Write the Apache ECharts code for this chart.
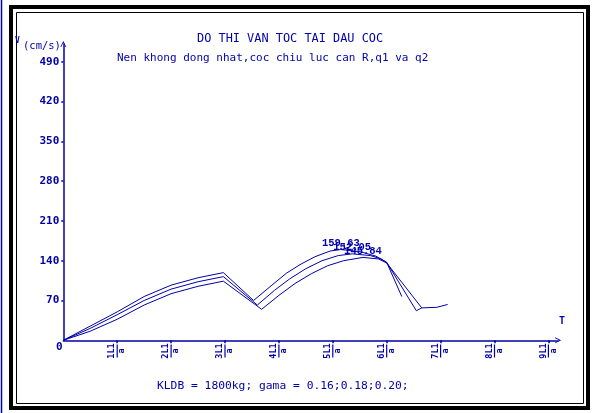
<!DOCTYPE html>
<html><head><meta charset="utf-8">
<script src="https://cdn.jsdelivr.net/npm/echarts@6/dist/echarts.min.js"></script>
<style>html,body{margin:0;padding:0;background:#fff}#c{width:592px;height:413px}</style>
</head><body><div id="c"></div>
<script>
// ---- data (t in units of L1/a, v in cm/s) ----
const tA = [0, 0.5, 1.0, 1.5, 2.0, 2.5, 2.97, 3.53, 3.87, 4.14, 4.39, 4.67, 4.95, 5.15, 5.5, 5.8, 6.0, 6.28];
const vA = [0, 25, 50, 77, 97, 110, 119, 70, 97, 118, 133, 147, 157, 159.63, 156, 148, 137, 77];
const tB = [0, 0.5, 1.0, 1.5, 2.0, 2.5, 2.97, 3.60, 3.92, 4.2, 4.5, 4.8, 5.1, 5.36, 5.7, 5.9, 6.0, 6.55, 6.65, 6.93, 7.13];
const vB = [0, 21, 45, 70, 90, 103, 112, 62, 88, 108, 126, 140, 149, 152.05, 149, 143, 137, 52, 57, 58, 63];
const tC = [0, 0.5, 1.0, 1.5, 2.0, 2.5, 2.97, 3.68, 4.0, 4.3, 4.6, 4.9, 5.2, 5.56, 5.85, 6.0, 6.65];
const vC = [0, 16, 37, 62, 82, 95, 104, 54.5, 79, 100, 117, 131, 140, 145.84, 143, 136, 57];
const xTicks = [1, 2, 3, 4, 5, 6, 7, 8, 9];
const yTicks = [70, 140, 210, 280, 350, 420, 490];
const titleText = 'DO THI VAN TOC TAI DAU COC';
const subText = 'Nen khong dong nhat,coc chiu luc can R,q1 va q2';
const footText = 'KLDB = 1800kg; gama = 0.16;0.18;0.20;';

const BLUE = '#0000aa';
const MONO = '"DejaVu Sans Mono", "Liberation Mono", monospace';
const X_MAX = 9.18, Y_MAX = 521;

function build(t, v) {
  let im = 0;
  v.forEach((x, i) => { if (x > v[im]) im = i; });
  return t.map((tt, i) => {
    const d = { value: [tt, v[i]] };
    if (i === im) d.label = { show: true };
    return d;
  });
}
function lineSeries(t, v) {
  return {
    type: 'line', data: build(t, v), showSymbol: true, symbol: 'circle', symbolSize: 0.01,
    lineStyle: { color: BLUE, width: 1 }, itemStyle: { color: BLUE },
    label: { show: false, position: 'top', distance: 1, color: BLUE,
      fontFamily: '"Liberation Mono", monospace', fontWeight: 'bold', fontSize: 10.5,
      formatter: p => p.value[1].toFixed(2) },
    labelLayout: { hideOverlap: false },
    animation: false, silent: true
  };
}
const arrow = 'path://M0,10 L5,0 L10,10 L8.6,10 L5,3 L1.4,10 Z';

const chart = echarts.init(document.getElementById('c'), null, { renderer: 'canvas' });
chart.setOption({
  backgroundColor: '#ffffff',
  animation: false,
  title: [
    { text: titleText, left: 197, top: 33, padding: 0, textStyle: { color: BLUE, fontFamily: MONO, fontSize: 11.9, fontWeight: 'normal' } },
    { text: subText, left: 117, top: 53, padding: 0, textStyle: { color: BLUE, fontFamily: MONO, fontSize: 11, fontWeight: 'normal' } },
    { text: footText, left: 157, top: 381, padding: 0, textStyle: { color: BLUE, fontFamily: MONO, fontSize: 11.3, fontWeight: 'normal' } }
  ],
  grid: { left: 63.3, top: 340.3 - Y_MAX * 0.5686, width: X_MAX * 53.9, height: Y_MAX * 0.5686, containLabel: false },
  xAxis: {
    type: 'value', min: 0, max: X_MAX,
    axisLine: { show: true, lineStyle: { color: BLUE, width: 1.5 }, symbol: ['none', arrow], symbolSize: [6, 7] },
    axisTick: { show: true, customValues: xTicks, length: 3, lineStyle: { color: BLUE, width: 1.5 } },
    splitLine: { show: false },
    axisLabel: {
      customValues: xTicks, rotate: 90, margin: 3, color: BLUE,
      formatter: v => '{n|' + v + 'L1}\n{b|}\n{d|a}',
      rich: {
        n: { fontFamily: MONO, fontWeight: 'bold', fontSize: 8.5, lineHeight: 7, color: BLUE, align: 'center' },
        b: { width: 13, height: 1.2, lineHeight: 3, backgroundColor: BLUE, align: 'center' },
        d: { fontFamily: MONO, fontWeight: 'bold', fontSize: 8.5, lineHeight: 7, color: BLUE, align: 'center' }
      }
    }
  },
  yAxis: {
    type: 'value', min: 0, max: Y_MAX,
    axisLine: { show: true, lineStyle: { color: BLUE, width: 1.5 }, symbol: ['none', arrow], symbolSize: [6, 7] },
    axisTick: { show: true, customValues: yTicks, length: 2, lineStyle: { color: BLUE, width: 1.5 } },
    splitLine: { show: false },
    axisLabel: { customValues: yTicks, margin: 4, color: BLUE, fontFamily: MONO, fontSize: 11, fontWeight: 'bold' }
  },
  series: [lineSeries(tA, vA), lineSeries(tB, vB), lineSeries(tC, vC)],
  graphic: [
    { type: 'line', shape: { x1: 1.5, y1: 0, x2: 1.5, y2: 413 }, style: { stroke: BLUE, lineWidth: 1.5 }, silent: true },
    { type: 'rect', shape: { x: 11, y: 7, width: 577, height: 401 }, style: { fill: 'none', stroke: '#000', lineWidth: 4 }, silent: true },
    { type: 'rect', shape: { x: 16.5, y: 12.5, width: 567, height: 391 }, style: { fill: 'none', stroke: '#000', lineWidth: 1 }, silent: true },
    { type: 'text', left: 56, top: 342, style: { text: '0', fill: BLUE, font: 'bold 11px ' + MONO }, silent: true },
    { type: 'text', left: 15, top: 37, style: { text: 'V', fill: BLUE, font: 'bold 8px ' + MONO }, silent: true },
    { type: 'text', left: 23, top: 41, style: { text: '(cm/s)', fill: BLUE, font: '10.5px ' + MONO }, silent: true },
    { type: 'text', left: 559, top: 316, style: { text: 'T', fill: BLUE, font: 'bold 10px ' + MONO }, silent: true }
  ]
});
</script></body></html>
